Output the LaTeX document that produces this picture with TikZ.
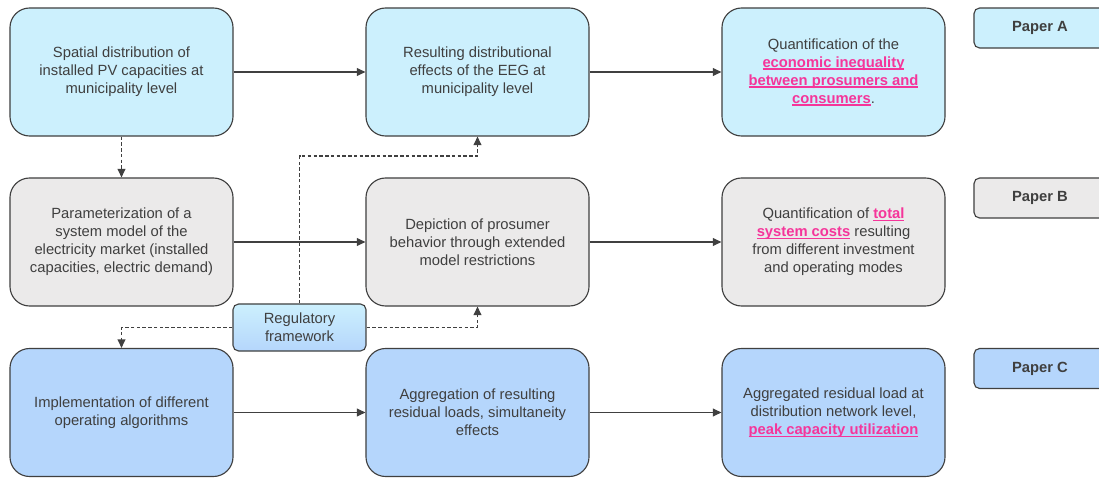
\documentclass[tikz,border=0pt]{standalone}
\usepackage{fontspec}
\setmainfont{Liberation Sans}
\usetikzlibrary{arrows.meta}
\definecolor{cyanfill}{HTML}{CCF0FD}
\definecolor{grayfill}{HTML}{EBEAEA}
\definecolor{bluefill}{HTML}{B5D6FC}
\definecolor{edge}{HTML}{404040}
\definecolor{txt}{HTML}{3F3F3F}
\definecolor{hot}{HTML}{F5359A}
\newcommand{\hl}[1]{{\color{hot}\bfseries\setbox0\hbox{#1}\rlap{\rule[-1.9pt]{\wd0}{0.9pt}}\box0}}
\tikzset{
  stepbox/.style={draw=edge, line width=0.8pt, rounded corners=14pt, minimum width=5.575cm, minimum height=3.2cm, align=center, text=txt, font=\fontsize{10.5}{12.8}\selectfont, inner sep=2pt},
  paperbox/.style={draw=edge, line width=0.8pt, rounded corners=4pt, minimum width=3.3cm, minimum height=1.0cm, align=center, text=txt, font=\fontsize{10.5}{12.8}\selectfont\bfseries},
  regbox/.style={draw=edge, line width=0.8pt, rounded corners=4pt, minimum width=3.325cm, minimum height=1.175cm, align=center, text=txt, font=\fontsize{10.5}{12.8}\selectfont, top color=cyanfill, middle color=grayfill, bottom color=bluefill},
  solidarrow/.style={draw=edge, line width=0.8pt, -{Triangle[length=6pt,width=5.5pt]}},
  dasharrow/.style={draw=edge, line width=0.8pt, dash pattern=on 2.5pt off 1.6pt, -{Triangle[length=6pt,width=5.5pt]}}
}
\begin{document}
\begin{tikzpicture}[x=0.025cm,y=-0.025cm]
\useasboundingbox (0,0) rectangle (1099,478);
\clip (0,0) rectangle (1099,478);
% row 1
\node[stepbox, fill=cyanfill] (b1) at (121.5,72) {Spatial distribution of\\installed PV capacities at\\municipality level};
\node[stepbox, fill=cyanfill] (b2) at (477.5,72) {Resulting distributional\\effects of the EEG at\\municipality level};
\node[stepbox, fill=cyanfill] (b3) at (833.5,72) {Quantification of the\\\hl{economic inequality}\\\hl{between prosumers and}\\\hl{consumers}.};
% row 2
\node[stepbox, fill=grayfill] (b4) at (121.5,242) {Parameterization of a\\system model of the\\electricity market (installed\\capacities, electric demand)};
\node[stepbox, fill=grayfill] (b5) at (477.5,242) {Depiction of prosumer\\behavior through extended\\model restrictions};
\node[stepbox, fill=grayfill] (b6) at (833.5,242) {Quantification of \hl{total}\\\hl{system costs} resulting\\from different investment\\and operating modes};
% row 3
\node[stepbox, fill=bluefill] (b7) at (121.5,412.5) {Implementation of different\\operating algorithms};
\node[stepbox, fill=bluefill] (b8) at (477.5,412.5) {Aggregation of resulting\\residual loads, simultaneity\\effects};
\node[stepbox, fill=bluefill] (b9) at (833.5,412.5) {Aggregated residual load at\\distribution network level,\\\hl{peak capacity utilization}};
% papers
\node[paperbox, fill=cyanfill] (pa) at (1040,28) {Paper A};
\node[paperbox, fill=grayfill] (pb) at (1040,198) {Paper B};
\node[paperbox, fill=bluefill] (pc) at (1040,368.5) {Paper C};
% regulatory framework
\node[regbox] (reg) at (299.5,327.5) {Regulatory\\framework};
\coordinate (k1) at (300,156);
% solid arrows
\draw[solidarrow] (b1) -- (b2);
\draw[solidarrow] (b2) -- (b3);
\draw[solidarrow] (b4) -- (b5);
\draw[solidarrow] (b5) -- (b6);
\draw[solidarrow] (b7) -- (b8);
\draw[solidarrow] (b8) -- (b9);
% dashed arrows
\draw[dasharrow] (b1.south) -- (b4.north);
\draw[dasharrow] (reg.north) -- (reg.north |- k1) -| (b2.south);
\draw[dasharrow] (reg.east) -| (b5.south);
\draw[dasharrow] (reg.west) -| (b7.north);
\end{tikzpicture}
\end{document}
